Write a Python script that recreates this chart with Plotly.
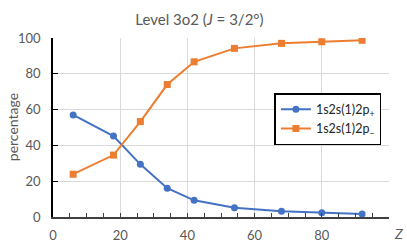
import plotly.graph_objects as go

Z = [6, 18, 26, 34, 42, 54, 68, 80, 92]
p_plus = [57.0, 45.2, 29.4, 16.1, 9.3, 5.2, 3.2, 2.4, 1.7]
p_minus = [23.9, 34.6, 53.3, 74.0, 86.7, 94.2, 97.0, 97.9, 98.7]
x_ticks = [0, 20, 40, 60, 80]
y_ticks = [0, 20, 40, 60, 80, 100]

FONT = "Lato, Calibri, Carlito, sans-serif"
GRAY = "#595959"

fig = go.Figure()
fig.add_trace(go.Scatter(
    x=Z, y=p_plus, mode="lines+markers", name="1s2s(1)2p<sub>+</sub>",
    line=dict(color="#4472C4", width=2),
    marker=dict(symbol="circle", size=7, color="#4472C4")))
fig.add_trace(go.Scatter(
    x=Z, y=p_minus, mode="lines+markers", name="1s2s(1)2p<sub>\u2013</sub>",
    line=dict(color="#ED7D31", width=2),
    marker=dict(symbol="square", size=7, color="#ED7D31")))

fig.update_layout(
    width=407, height=244,
    margin=dict(l=53, r=18, t=38, b=27, autoexpand=False),
    paper_bgcolor="white", plot_bgcolor="white",
    font=dict(family=FONT, size=12, color=GRAY),
    title=dict(text="Level 3o2 (<i>J</i> = 3/2°)", x=0.49, xanchor="center",
               y=1 - 20 / 244, yanchor="middle",
               font=dict(family=FONT, size=15, color=GRAY)),
    showlegend=True,
    legend=dict(x=0.659, y=0.692, xanchor="left", yanchor="top",
                bgcolor="white", bordercolor="black", borderwidth=1.5,
                font=dict(family=FONT, size=12.5, color="#262626"),
                tracegroupgap=0, itemwidth=30),
    xaxis=dict(range=[0, 100], tickvals=x_ticks, ticktext=[str(v) for v in x_ticks],
               automargin=False,
               showgrid=True, gridcolor="#d9d9d9", gridwidth=1,
               showline=True, linecolor="#404040", linewidth=1.5,
               ticks="inside", ticklen=4, tickcolor="#404040", tickwidth=1,
               minor=dict(dtick=5, tick0=0, ticks="inside", ticklen=4,
                          tickcolor="#404040", tickwidth=1, showgrid=False),
               ticklabelstandoff=6, zeroline=False,
               tickfont=dict(family=FONT, size=13, color=GRAY)),
    yaxis=dict(range=[0, 100], tickvals=y_ticks, ticktext=[str(v) for v in y_ticks],
               automargin=False,
               showgrid=True, gridcolor="#d9d9d9", gridwidth=1,
               showline=True, linecolor="black", linewidth=1.5,
               ticks="inside", ticklen=5, tickcolor="black", tickwidth=1,
               ticklabelstandoff=8, zeroline=False,
               tickfont=dict(family=FONT, size=13, color=GRAY)),
)

fig.add_annotation(text="percentage", xref="paper", yref="paper",
                   x=-(53.3 - 13) / 336, y=0.5, textangle=-90,
                   xanchor="center", yanchor="middle", showarrow=False,
                   font=dict(family=FONT, size=14, color=GRAY))

fig.add_annotation(text="<i>Z</i>", xref="paper", yref="paper",
                   x=(399 - 53) / 336, y=-(233 - 216.7) / 178.4,
                   xanchor="center", yanchor="middle", showarrow=False,
                   font=dict(family=FONT, size=14, color=GRAY))

fig.write_html("out.html", config={"displayModeBar": False},
               post_script="document.body.style.margin='0';document.body.style.overflow='hidden';")
